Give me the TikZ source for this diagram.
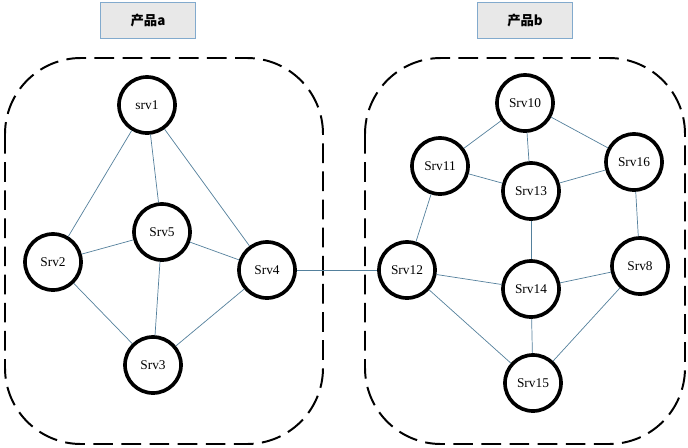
\documentclass[tikz,border=0pt]{standalone}
\usepackage{fontspec}
\setmainfont{Liberation Serif}
\newfontfamily\cjkfont{Noto Sans CJK SC}
\usetikzlibrary{positioning}
\definecolor{linkblue}{RGB}{84,128,156}
\definecolor{boxfill}{RGB}{232,232,232}
\definecolor{boxline}{RGB}{130,170,205}

\begin{document}
\begin{tikzpicture}[x=0.025cm, y=-0.025cm,
    every node/.style={font=\fontsize{9.5}{11}\selectfont, align=center},
    server/.style ={draw, circle, line width=2.6pt, minimum size=1.4cm, inner sep=0pt},
    product/.style={draw=boxline, rectangle, fill=boxfill, line width=0.6pt,
                    minimum height=0.9cm, minimum width=2.38cm,
                    font=\cjkfont\bfseries\fontsize{9.5}{11}\selectfont},
    group/.style  ={line width=1.4pt, dash pattern=on 14pt off 6pt, rounded corners=1.9cm},
    link/.style   ={draw=linkblue, line width=0.5pt}
]
\useasboundingbox (0,0) rectangle (688,447);

% product labels
\node[product] (proda) at (148,20) {产品a};
\node[product] (prodb) at (525,20) {产品b};

% dashed groups
\draw[group] (5,58) rectangle (323,444);
\draw[group] (365,58) rectangle (685,444);

% product a
\node[server] (srv1) at (147,105) {srv1};
\node[server] (srv5) at (162,232) {Srv5};
\node[server] (srv2) at (53,262)  {Srv2};
\node[server] (srv4) at (267,270) {Srv4};
\node[server] (srv3) at (153,365) {Srv3};

% product b
\node[server] (srv10) at (525,103) {Srv10};
\node[server] (srv11) at (440,166) {Srv11};
\node[server] (srv13) at (531,191) {Srv13};
\node[server] (srv16) at (634,162) {Srv16};
\node[server] (srv12) at (407,270) {Srv12};
\node[server] (srv14) at (531,289) {Srv14};
\node[server] (srv8)  at (640,266) {Srv8};
\node[server] (srv15) at (533,383) {Srv15};

% links
\draw[link] (srv1) -- (srv2);
\draw[link] (srv1) -- (srv5);
\draw[link] (srv1) -- (srv4);
\draw[link] (srv2) -- (srv5);
\draw[link] (srv5) -- (srv4);
\draw[link] (srv5) -- (srv3);
\draw[link] (srv2) -- (srv3);
\draw[link] (srv4) -- (srv3);
\draw[link] (srv4) -- (srv12);
\draw[link] (srv10) -- (srv11);
\draw[link] (srv10) -- (srv13);
\draw[link] (srv10) -- (srv16);
\draw[link] (srv11) -- (srv13);
\draw[link] (srv13) -- (srv16);
\draw[link] (srv11) -- (srv12);
\draw[link] (srv13) -- (srv14);
\draw[link] (srv16) -- (srv8);
\draw[link] (srv12) -- (srv14);
\draw[link] (srv14) -- (srv8);
\draw[link] (srv12) -- (srv15);
\draw[link] (srv14) -- (srv15);
\draw[link] (srv8) -- (srv15);
\end{tikzpicture}
\end{document}
